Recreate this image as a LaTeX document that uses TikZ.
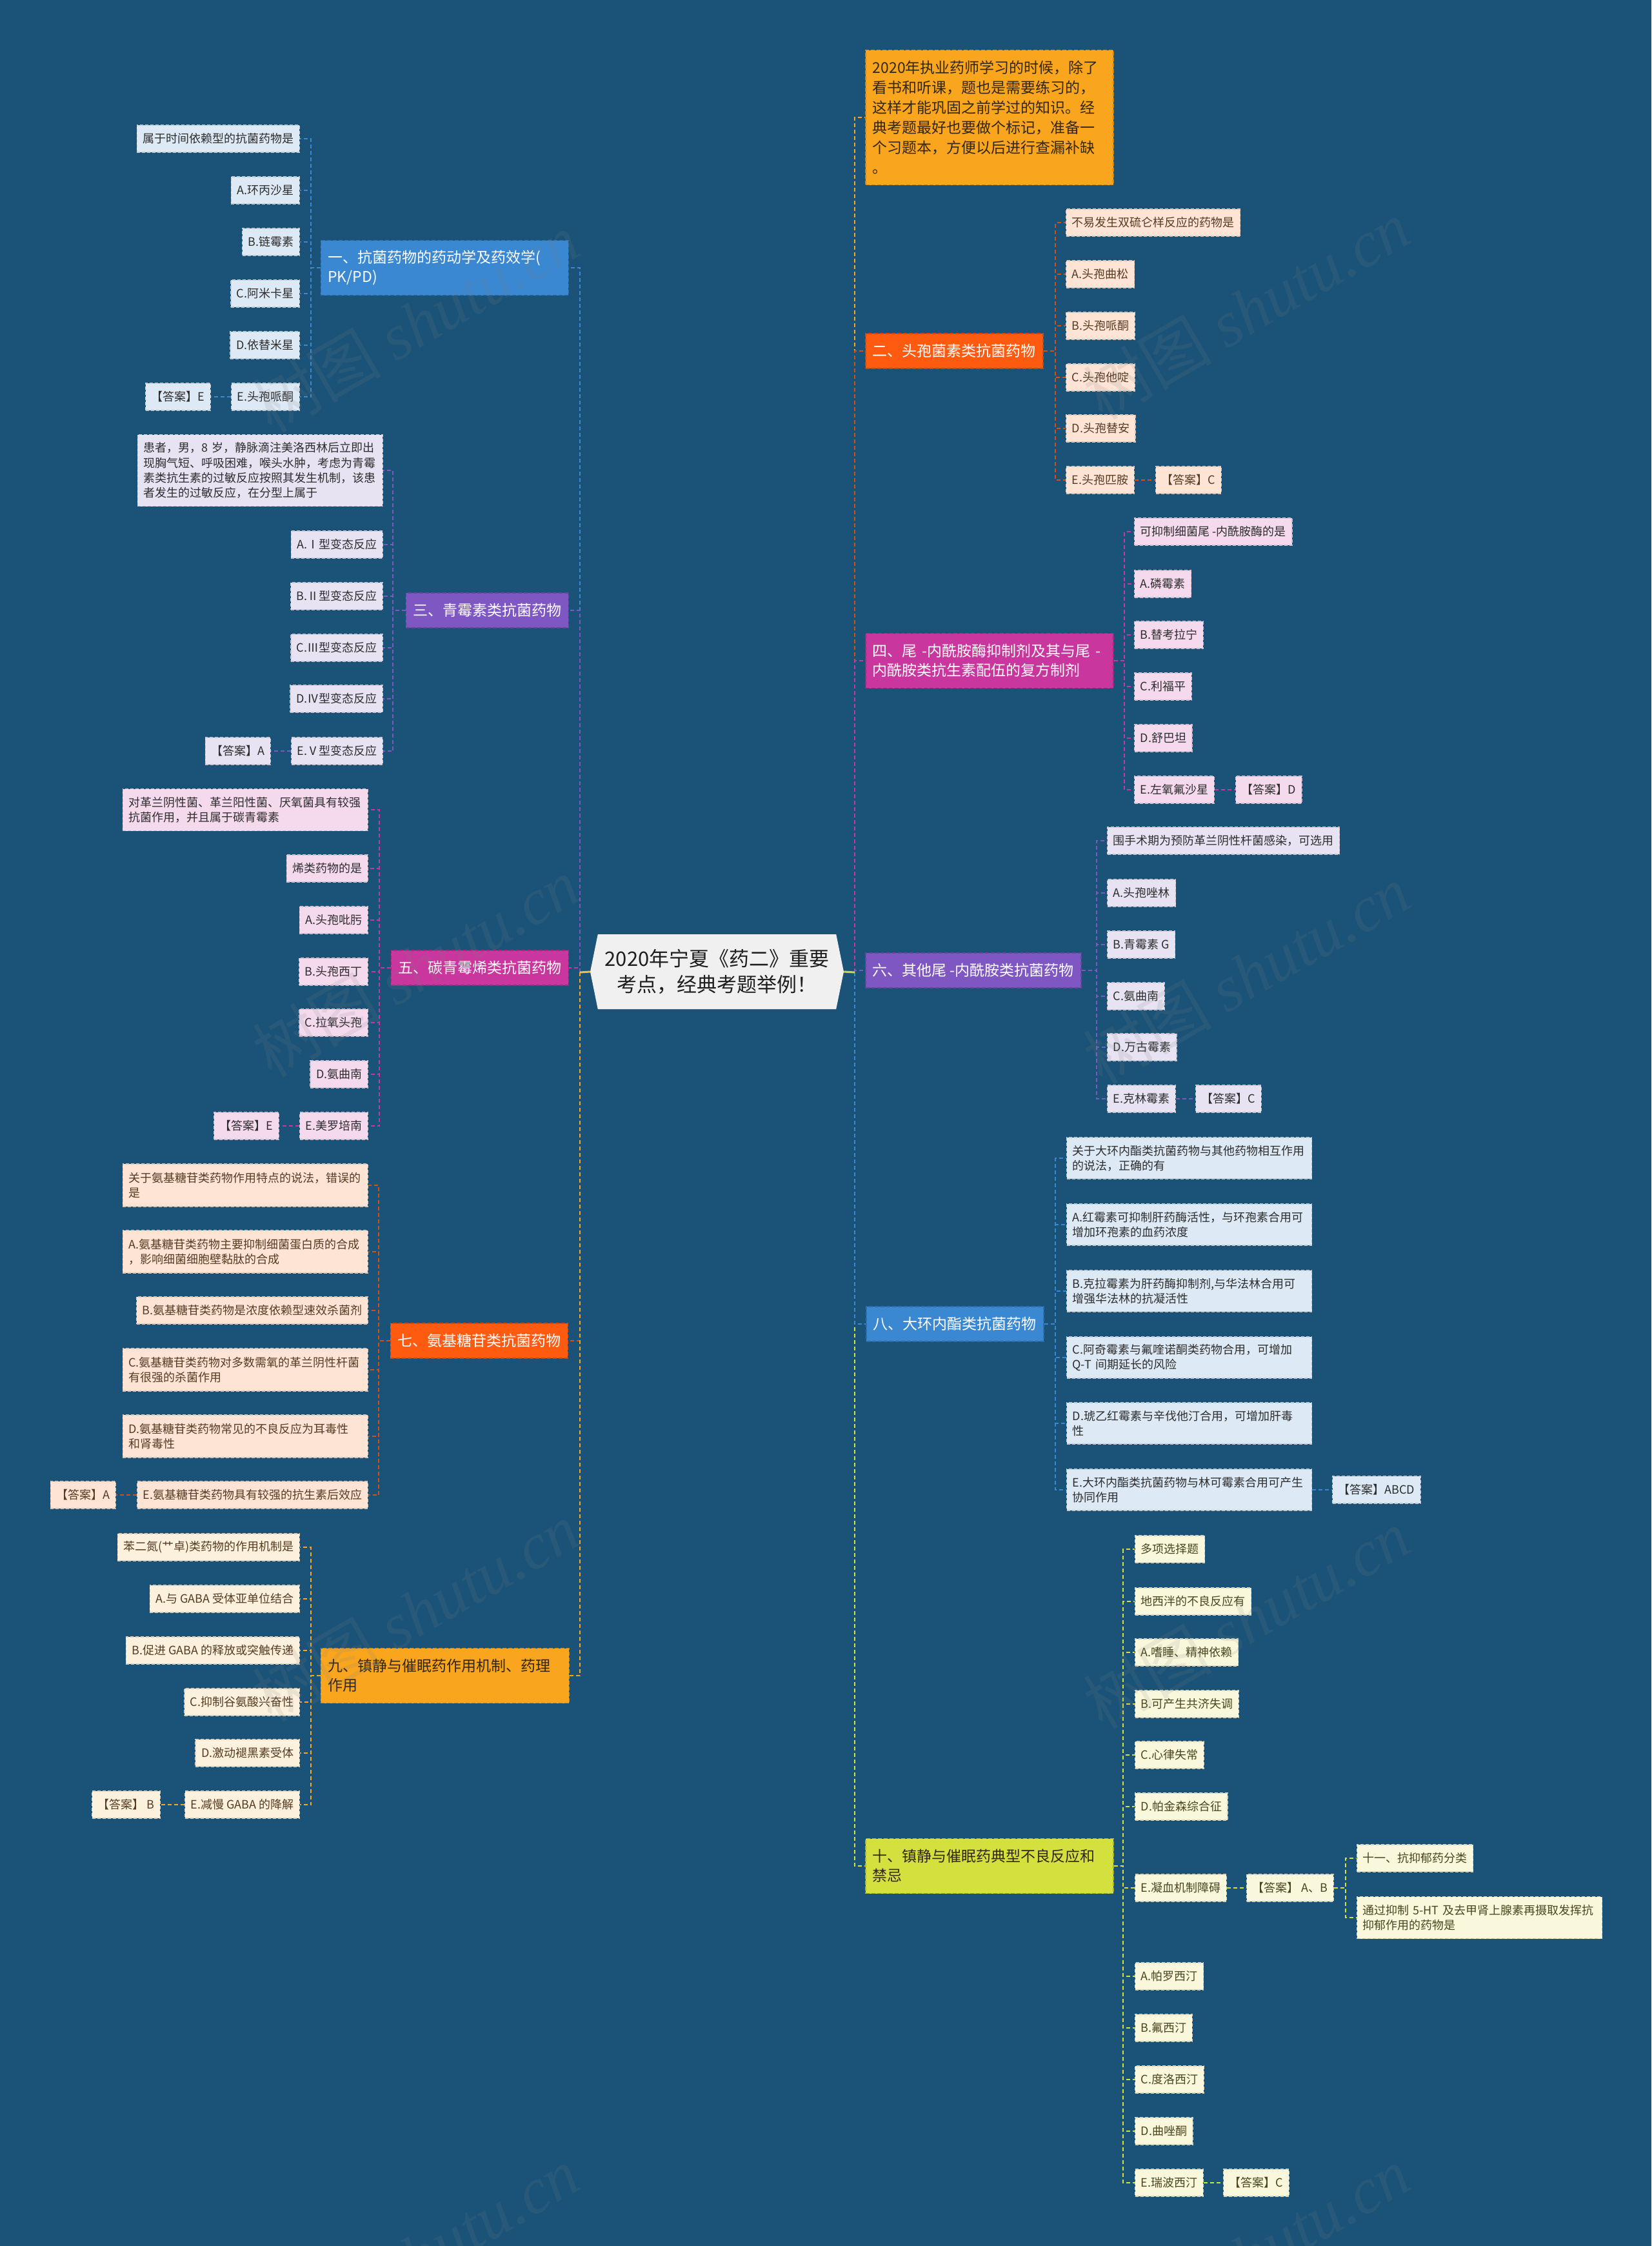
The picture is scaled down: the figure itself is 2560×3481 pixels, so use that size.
\documentclass[tikz,border=0pt]{standalone}
\usepackage{fontspec}
\setmainfont{Noto Sans CJK SC}
\newfontfamily\wmserif{Liberation Serif}
\usetikzlibrary{shapes.symbols}
\definecolor{bgc}{RGB}{27,83,120}
\definecolor{blueB}{RGB}{58,136,210}
\definecolor{blueL}{RGB}{221,233,245}
\definecolor{purpB}{RGB}{126,87,194}
\definecolor{purpL}{RGB}{231,227,243}
\definecolor{magB}{RGB}{200,54,158}
\definecolor{magL}{RGB}{245,218,238}
\definecolor{redB}{RGB}{255,91,16}
\definecolor{redL}{RGB}{253,228,213}
\definecolor{oraB}{RGB}{249,166,30}
\definecolor{oraL}{RGB}{252,241,221}
\definecolor{ygB}{RGB}{211,224,62}
\definecolor{ygL}{RGB}{250,248,220}
\definecolor{tDark}{RGB}{45,45,45}
\definecolor{tBrown}{RGB}{85,60,35}
\definecolor{tOlive}{RGB}{75,70,30}
\definecolor{tBr}{RGB}{50,38,20}
\definecolor{ctrF}{RGB}{240,240,240}
\definecolor{ctrT}{RGB}{30,30,30}
\definecolor{ctrL}{RGB}{240,190,70}
\definecolor{ctrR}{RGB}{200,216,74}
\pgfdeclarelayer{back}
\pgfdeclarelayer{lines}
\pgfsetlayers{back,lines,main}
\tikzset{
 lf/.style={font=\fontsize{18}{23.2}\selectfont, align=left, minimum height=42pt, inner xsep=9pt, inner ysep=3pt, line width=1.2pt, dash pattern=on 5pt off 3pt},
 br/.style={font=\fontsize{23}{30}\selectfont, align=left, minimum height=54pt, inner xsep=11pt, inner ysep=3pt, line width=1.5pt, dash pattern=on 6pt off 3pt},
 lB/.style={lf, fill=blueL, draw=blueL!70!gray, text=tDark},
 lP/.style={lf, fill=purpL, draw=purpL!70!gray, text=tDark},
 lM/.style={lf, fill=magL, draw=magL!70!gray, text=tDark},
 lR/.style={lf, fill=redL, draw=redL!70!gray, text=tBrown},
 lO/.style={lf, fill=oraL, draw=oraL!70!gray, text=tBrown},
 lY/.style={lf, fill=ygL, draw=ygL!70!gray, text=tOlive},
 bB/.style={br, fill=blueB, draw=blueB!80!black, text=white},
 bP/.style={br, fill=purpB, draw=purpB!80!black, text=white},
 bM/.style={br, fill=magB, draw=magB!80!black, text=white},
 bR/.style={br, fill=redB, draw=redB!80!black, text=white},
 bO/.style={br, fill=oraB, draw=oraB!80!black, text=tBr},
 bY/.style={br, fill=ygB, draw=ygB!80!black, text=tBr},
 cn/.style={line width=1.8pt, dash pattern=on 6pt off 4pt},
 cB/.style={cn, draw=blueB},
 cP/.style={cn, draw=purpB},
 cM/.style={cn, draw=magB},
 cR/.style={cn, draw=redB!85!black},
 cO/.style={cn, draw=oraB},
 cY/.style={cn, draw=ygB},
 wm/.style={rotate=30, font=\fontsize{100}{100}\selectfont, text=gray, opacity=0.14},
 ctr/.style={signal, signal to=west and east, signal pointer angle=157, fill=ctrF, minimum width=393pt, minimum height=116pt, font=\fontsize{31}{40}\selectfont, align=center, text=ctrT}
}
\begin{document}
\begin{tikzpicture}[x=1pt,y=-1pt]
\begin{pgfonlayer}{back}
\fill[bgc] (0,0) rectangle (2560,3481);
\end{pgfonlayer}
\useasboundingbox (0,0) rectangle (2560,3481);

% center
\node[ctr] (c) at (1111.5,1506) {2020年宁夏《药二》重要\\考点，经典考题举例！};

% ---------- LEFT ----------
% 一
\node[bB, anchor=east, text width=362pt, minimum height=85pt] (b1) at (882,415) {一、抗菌药物的药动学及药效学(\\PK/PD)};
\node[lB, anchor=east] (b1q) at (465,215) {属于时间依赖型的抗菌药物是};
\node[lB, anchor=east] (b1a) at (465,295) {A.环丙沙星};
\node[lB, anchor=east] (b1b) at (465,375) {B.链霉素};
\node[lB, anchor=east] (b1c) at (465,455) {C.阿米卡星};
\node[lB, anchor=east] (b1d) at (465,535) {D.依替米星};
\node[lB, anchor=east] (b1e) at (465,615) {E.头孢哌酮};
\node[lB, anchor=east] (b1k) at (327,615) {【答案】E};
\coordinate (t1) at (482,415);

% 三
\node[bP, anchor=east] (b3) at (882,946) {三、青霉素类抗菌药物};
\node[lP, anchor=east, text width=362pt, minimum height=111pt] (b3q) at (594,729) {患者，男，8 岁，静脉滴注美洛西林后立即出\\现胸气短、呼吸困难，喉头水肿，考虑为青霉\\素类抗生素的过敏反应按照其发生机制，该患\\者发生的过敏反应，在分型上属于};
\node[lP, anchor=east] (b3a) at (594,844) {A.Ⅰ型变态反应};
\node[lP, anchor=east] (b3b) at (594,924) {B.Ⅱ型变态反应};
\node[lP, anchor=east] (b3c) at (594,1004) {C.Ⅲ型变态反应};
\node[lP, anchor=east] (b3d) at (594,1083) {D.Ⅳ型变态反应};
\node[lP, anchor=east] (b3e) at (594,1164) {E.Ⅴ型变态反应};
\node[lP, anchor=east] (b3k) at (420,1164) {【答案】A};
\coordinate (t3) at (609,946);

% 五
\node[bM, anchor=east] (b5) at (882,1500) {五、碳青霉烯类抗菌药物};
\node[lM, anchor=east, text width=362pt, minimum height=65pt] (b5q) at (571,1255) {对革兰阴性菌、革兰阳性菌、厌氧菌具有较强\\抗菌作用，并且属于碳青霉素};
\node[lM, anchor=east] (b5r) at (571,1346) {烯类药物的是};
\node[lM, anchor=east] (b5a) at (571,1426) {A.头孢吡肟};
\node[lM, anchor=east] (b5b) at (571,1506) {B.头孢西丁};
\node[lM, anchor=east] (b5c) at (571,1585) {C.拉氧头孢};
\node[lM, anchor=east] (b5d) at (571,1665) {D.氨曲南};
\node[lM, anchor=east] (b5e) at (571,1745) {E.美罗培南};
\node[lM, anchor=east] (b5k) at (433,1745) {【答案】E};
\coordinate (t5) at (588,1500);

% 七
\node[bR, anchor=east] (b7) at (881,2078) {七、氨基糖苷类抗菌药物};
\node[lR, anchor=east, text width=362pt, minimum height=66pt] (b7q) at (571,1837) {关于氨基糖苷类药物作用特点的说法，错误的\\是};
\node[lR, anchor=east, text width=362pt, minimum height=66pt] (b7a) at (571,1940) {A.氨基糖苷类药物主要抑制细菌蛋白质的合成\\，影响细菌细胞壁黏肽的合成};
\node[lR, anchor=east] (b7b) at (571,2031) {B.氨基糖苷类药物是浓度依赖型速效杀菌剂};
\node[lR, anchor=east, text width=362pt, minimum height=66pt] (b7c) at (571,2123) {C.氨基糖苷类药物对多数需氧的革兰阴性杆菌\\有很强的杀菌作用};
\node[lR, anchor=east, text width=362pt, minimum height=66pt] (b7d) at (571,2226) {D.氨基糖苷类药物常见的不良反应为耳毒性\\和肾毒性};
\node[lR, anchor=east] (b7e) at (571,2317) {E.氨基糖苷类药物具有较强的抗生素后效应};
\node[lR, anchor=east] (b7k) at (180,2317) {【答案】A};
\coordinate (t7) at (587,2078);

% 九
\node[bO, anchor=east, text width=363pt, minimum height=85pt] (b9) at (883,2597) {九、镇静与催眠药作用机制、药理\\作用};
\node[lO, anchor=east] (b9q) at (465,2398) {苯二氮(艹卓)类药物的作用机制是};
\node[lO, anchor=east] (b9a) at (465,2478) {A.与 GABA 受体亚单位结合};
\node[lO, anchor=east] (b9b) at (465,2558) {B.促进 GABA 的释放或突触传递};
\node[lO, anchor=east] (b9c) at (465,2638) {C.抑制谷氨酸兴奋性};
\node[lO, anchor=east] (b9d) at (465,2717) {D.激动褪黑素受体};
\node[lO, anchor=east] (b9e) at (465,2797) {E.减慢 GABA 的降解};
\node[lO, anchor=east] (b9k) at (249,2797) {【答案】 B};
\coordinate (t9) at (482,2597);

% ---------- RIGHT ----------
\node[bO, anchor=west, text width=362pt, minimum height=209pt, font=\fontsize{23}{31}\selectfont] (intro) at (1341,182) {2020年执业药师学习的时候，除了\\看书和听课，题也是需要练习的，\\这样才能巩固之前学过的知识。经\\典考题最好也要做个标记，准备一\\个习题本，方便以后进行查漏补缺\\。};

% 二
\node[bR, anchor=west] (b2) at (1341,544) {二、头孢菌素类抗菌药物};
\node[lR, anchor=west] (b2q) at (1652,345) {不易发生双硫仑样反应的药物是};
\node[lR, anchor=west] (b2a) at (1652,425) {A.头孢曲松};
\node[lR, anchor=west] (b2b) at (1652,505) {B.头孢哌酮};
\node[lR, anchor=west] (b2c) at (1652,585) {C.头孢他啶};
\node[lR, anchor=west] (b2d) at (1652,664) {D.头孢替安};
\node[lR, anchor=west] (b2e) at (1652,744) {E.头孢匹胺};
\node[lR, anchor=west] (b2k) at (1791,744) {【答案】C};
\coordinate (t2) at (1636,544);

% 四
\node[bM, anchor=west, text width=362pt, minimum height=85pt] (b4) at (1341,1024) {四、尾 -内酰胺酶抑制剂及其与尾 -\\内酰胺类抗生素配伍的复方制剂};
\node[lM, anchor=west] (b4q) at (1758,824) {可抑制细菌尾 -内酰胺酶的是};
\node[lM, anchor=west] (b4a) at (1758,905) {A.磷霉素};
\node[lM, anchor=west] (b4b) at (1758,984) {B.替考拉宁};
\node[lM, anchor=west] (b4c) at (1758,1064) {C.利福平};
\node[lM, anchor=west] (b4d) at (1758,1144) {D.舒巴坦};
\node[lM, anchor=west] (b4e) at (1758,1224) {E.左氧氟沙星};
\node[lM, anchor=west] (b4k) at (1915,1224) {【答案】D};
\coordinate (t4) at (1743,1024);

% 六
\node[bP, anchor=west] (b6) at (1341,1504) {六、其他尾 -内酰胺类抗菌药物};
\node[lP, anchor=west] (b6q) at (1716,1303) {围手术期为预防革兰阴性杆菌感染，可选用};
\node[lP, anchor=west] (b6a) at (1716,1384) {A.头孢唑林};
\node[lP, anchor=west] (b6b) at (1716,1464) {B.青霉素 G};
\node[lP, anchor=west] (b6c) at (1716,1544) {C.氨曲南};
\node[lP, anchor=west] (b6d) at (1716,1623) {D.万古霉素};
\node[lP, anchor=west] (b6e) at (1716,1703) {E.克林霉素};
\node[lP, anchor=west] (b6k) at (1853,1703) {【答案】C};
\coordinate (t6) at (1700,1504);

% 八
\node[bB, anchor=west] (b8) at (1342,2052) {八、大环内酯类抗菌药物};
\node[lB, anchor=west, text width=362pt, minimum height=64pt] (b8q) at (1653,1795) {关于大环内酯类抗菌药物与其他药物相互作用\\的说法，正确的有};
\node[lB, anchor=west, text width=362pt, minimum height=64pt] (b8a) at (1653,1898) {A.红霉素可抑制肝药酶活性，与环孢素合用可\\增加环孢素的血药浓度};
\node[lB, anchor=west, text width=362pt, minimum height=64pt] (b8b) at (1653,2001) {B.克拉霉素为肝药酶抑制剂,与华法林合用可\\增强华法林的抗凝活性};
\node[lB, anchor=west, text width=362pt, minimum height=64pt] (b8c) at (1653,2104) {C.阿奇霉素与氟喹诺酮类药物合用，可增加\\Q-T 间期延长的风险};
\node[lB, anchor=west, text width=362pt, minimum height=64pt] (b8d) at (1653,2206) {D.琥乙红霉素与辛伐他汀合用，可增加肝毒\\性};
\node[lB, anchor=west, text width=362pt, minimum height=64pt] (b8e) at (1653,2309) {E.大环内酯类抗菌药物与林可霉素合用可产生\\协同作用};
\node[lB, anchor=west] (b8k) at (2065,2309) {【答案】ABCD};
\coordinate (t8) at (1636,2052);

% 十
\node[bY, anchor=west, text width=362pt, minimum height=85pt] (b10) at (1341,2892) {十、镇静与催眠药典型不良反应和\\禁忌};
\node[lY, anchor=west] (b10q) at (1759,2401) {多项选择题};
\node[lY, anchor=west] (b10r) at (1759,2482) {地西泮的不良反应有};
\node[lY, anchor=west] (b10a) at (1759,2561) {A.嗜睡、精神依赖};
\node[lY, anchor=west] (b10b) at (1759,2641) {B.可产生共济失调};
\node[lY, anchor=west] (b10c) at (1759,2720) {C.心律失常};
\node[lY, anchor=west] (b10d) at (1759,2800) {D.帕金森综合征};
\node[lY, anchor=west] (b10e) at (1759,2926) {E.凝血机制障碍};
\node[lY, anchor=west] (b10k) at (1932,2926) {【答案】 A、B};
\node[lY, anchor=west] (b11) at (2103,2880) {十一、抗抑郁药分类};
\node[lY, anchor=west, text width=362pt, minimum height=65pt] (b11q) at (2103,2972) {通过抑制 5-HT 及去甲肾上腺素再摄取发挥抗\\抑郁作用的药物是};
\node[lY, anchor=west] (b12a) at (1759,3063) {A.帕罗西汀};
\node[lY, anchor=west] (b12b) at (1759,3143) {B.氟西汀};
\node[lY, anchor=west] (b12c) at (1759,3223) {C.度洛西汀};
\node[lY, anchor=west] (b12d) at (1759,3303) {D.曲唑酮};
\node[lY, anchor=west] (b12e) at (1759,3383) {E.瑞波西汀};
\node[lY, anchor=west] (b12k) at (1896,3383) {【答案】C};
\coordinate (t10) at (1741,2892);
\coordinate (t11) at (2086,2926);

% trunks
\coordinate (tl) at (899,1507);
\coordinate (tr) at (1325,1507);

% ---------- CONNECTORS ----------
\begin{pgfonlayer}{lines}
\draw[cB] (tl) |- (b1.east);
\draw[cM] (tl) |- (b5.east);
\draw[cP] (tl) |- (b3.east);
\draw[cR] (tl) |- (b7.east);
\draw[cO] (tl) |- (b9.east);
\draw[line width=3pt, ctrL] (c.west) -- (tl);

\draw[cO] (tr) |- (intro.west);
\draw[cR] (tr) |- (b2.west);
\draw[cM] (tr) |- (b4.west);
\draw[cY] (tr) |- (b10.west);
\draw[cB] (tr) |- (b8.west);
\draw[cP] (tr) |- (b6.west);
\draw[line width=3pt, ctrR] (c.east) -- (tr);

\foreach \n in {b1q,b1a,b1b,b1c,b1d,b1e} \draw[cB] (b1.west) -- (t1) |- (\n.east);
\draw[cB] (b1e.west) -- (b1k.east);
\foreach \n in {b3q,b3a,b3b,b3c,b3d,b3e} \draw[cP] (b3.west) -- (t3) |- (\n.east);
\draw[cP] (b3e.west) -- (b3k.east);
\foreach \n in {b5q,b5r,b5a,b5b,b5c,b5d,b5e} \draw[cM] (b5.west) -- (t5) |- (\n.east);
\draw[cM] (b5e.west) -- (b5k.east);
\foreach \n in {b7q,b7a,b7b,b7c,b7d,b7e} \draw[cR] (b7.west) -- (t7) |- (\n.east);
\draw[cR] (b7e.west) -- (b7k.east);
\foreach \n in {b9q,b9a,b9b,b9c,b9d,b9e} \draw[cO] (b9.west) -- (t9) |- (\n.east);
\draw[cO] (b9e.west) -- (b9k.east);

\foreach \n in {b2q,b2a,b2b,b2c,b2d,b2e} \draw[cR] (b2.east) -- (t2) |- (\n.west);
\draw[cR] (b2e.east) -- (b2k.west);
\foreach \n in {b4q,b4a,b4b,b4c,b4d,b4e} \draw[cM] (b4.east) -- (t4) |- (\n.west);
\draw[cM] (b4e.east) -- (b4k.west);
\foreach \n in {b6q,b6a,b6b,b6c,b6d,b6e} \draw[cP] (b6.east) -- (t6) |- (\n.west);
\draw[cP] (b6e.east) -- (b6k.west);
\foreach \n in {b8q,b8a,b8b,b8c,b8d,b8e} \draw[cB] (b8.east) -- (t8) |- (\n.west);
\draw[cB] (b8e.east) -- (b8k.west);
\foreach \n in {b10q,b10r,b10a,b10b,b10c,b10d,b10e,b12a,b12b,b12c,b12d,b12e} \draw[cY] (b10.east) -- (t10) |- (\n.west);
\draw[cY] (b10e.east) -- (b10k.west);
\draw[cY] (b12e.east) -- (b12k.west);
\foreach \n in {b11,b11q} \draw[cY] (b10k.east) -- (t11) |- (\n.west);
\end{pgfonlayer}

% watermarks
\node[wm] (wm1) at (644,500) {树图 {\wmserif\itshape shutu.cn}};
\node[wm] (wm2) at (1932,480) {树图 {\wmserif\itshape shutu.cn}};
\node[wm] (wm3) at (644,1499) {树图 {\wmserif\itshape shutu.cn}};
\node[wm] (wm4) at (1932,1510) {树图 {\wmserif\itshape shutu.cn}};
\node[wm] (wm5) at (644,2498) {树图 {\wmserif\itshape shutu.cn}};
\node[wm] (wm6) at (1932,2509) {树图 {\wmserif\itshape shutu.cn}};
\node[wm] (wm7) at (644,3497) {树图 {\wmserif\itshape shutu.cn}};
\node[wm] (wm8) at (1932,3497) {树图 {\wmserif\itshape shutu.cn}};
\end{tikzpicture}
\end{document}
